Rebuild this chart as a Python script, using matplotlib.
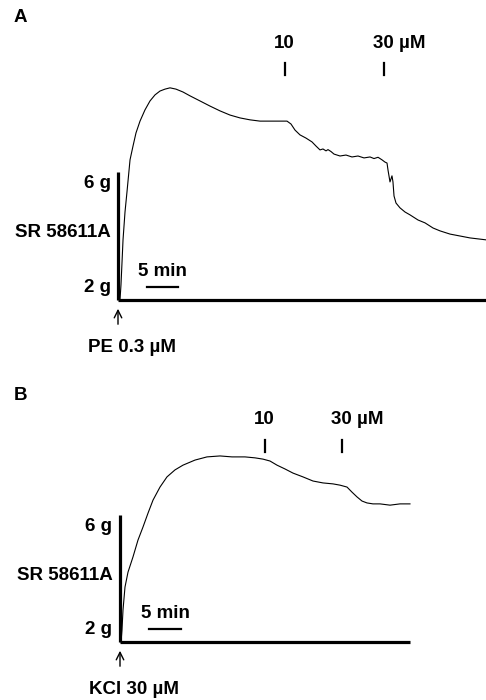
import numpy as np
import matplotlib
matplotlib.use('Agg')
import matplotlib.pyplot as plt

plt.rcParams['font.family'] = ['Liberation Sans', 'DejaVu Sans']
plt.rcParams['font.weight'] = 'bold'
plt.rcParams['font.size'] = 13.5

# panel A: PE 0.3 uM contraction, time in min, tension in g
a_time = [0.32, 0.48, 0.65, 0.81, 1.13, 1.45, 1.94, 2.42, 2.90, 3.55, 4.35, 5.16,
          5.97, 6.77, 7.58, 8.39, 9.35, 10.48, 11.61, 13.23, 14.84, 16.45, 18.06,
          19.68, 21.29, 22.90, 24.52, 26.13, 27.26, 27.90, 28.55, 29.35, 30.32,
          31.29, 31.94, 32.58, 33.06, 33.55, 33.87, 34.35, 34.84, 35.81, 36.77,
          37.74, 38.71, 39.68, 40.65, 41.29, 41.94, 42.58, 43.06, 43.39, 43.55,
          43.87, 44.19, 44.35, 44.52, 44.84, 45.48, 46.29, 47.10, 48.39, 49.52,
          50.81, 51.94, 53.55, 55.16, 56.77, 58.06, 59.35]
a_tension = [2.00, 2.47, 3.19, 3.88, 4.75, 5.38, 6.38, 6.81, 7.22, 7.59, 7.94, 8.22,
             8.41, 8.53, 8.59, 8.63, 8.59, 8.50, 8.38, 8.22, 8.06, 7.91, 7.78,
             7.69, 7.63, 7.59, 7.59, 7.59, 7.59, 7.50, 7.31, 7.16, 7.06,
             6.94, 6.81, 6.69, 6.72, 6.66, 6.70, 6.64, 6.56, 6.50, 6.53,
             6.47, 6.50, 6.44, 6.47, 6.42, 6.46, 6.38, 6.31, 6.28, 6.06,
             5.69, 5.88, 5.69, 5.25, 5.03, 4.88, 4.75, 4.66, 4.50, 4.41,
             4.25, 4.16, 4.06, 4.00, 3.94, 3.91, 3.88]
a_doses = [26.9, 42.9]
a_dose_labels = ['10', '30 µM']
a_end = 59.35

# panel B: KCl 30 uM contraction
b_time = [0.16, 0.31, 0.47, 0.78, 1.25, 2.03, 2.81, 3.59, 4.38, 5.16, 6.25, 7.34,
          8.59, 9.84, 11.72, 13.59, 15.63, 17.50, 19.53, 21.09, 22.34, 23.44,
          24.53, 25.78, 27.03, 28.59, 30.16, 31.72, 33.28, 34.38, 35.47, 36.25,
          37.03, 37.81, 38.59, 39.53, 40.63, 42.19, 43.75, 45.31]
b_tension = [2.00, 2.38, 3.01, 3.73, 4.20, 4.68, 5.21, 5.62, 6.06, 6.47, 6.88, 7.20,
             7.42, 7.57, 7.73, 7.83, 7.86, 7.83, 7.83, 7.80, 7.76, 7.70,
             7.57, 7.45, 7.32, 7.20, 7.07, 7.01, 6.98, 6.94, 6.88, 6.72,
             6.57, 6.44, 6.38, 6.35, 6.35, 6.31, 6.35, 6.35]
b_doses = [22.7, 34.7]
b_dose_labels = ['10', '30 µM']
b_end = 45.3

W, H = 486, 700
fig = plt.figure(figsize=(W / 100, H / 100), dpi=100)


def make_panel(x0, y0, px_min, px_g, top_px):
    # axes placed so that (x0, y0) pixel is (0 min, 2 g)
    ax = fig.add_axes([x0 / W, 1 - y0 / H, (W - x0) / W, (y0 - top_px) / H])
    ax.set_xlim(0, (W - x0) / px_min)
    ax.set_ylim(2, 2 + (y0 - top_px) / px_g)
    ax.axis('off')
    return ax


def draw_panel(ax, t, g, doses, labels, end, stim, px_min, px_g, label_y):
    # calibration bar and baseline
    ax.plot([0, 0], [2, 6], color='black', lw=2.3, clip_on=False, solid_capstyle='butt')
    ax.plot([0, end], [2, 2], color='black', lw=2.3, clip_on=False, solid_capstyle='butt')
    ax.plot(t, g, color='black', lw=0.8, clip_on=False)

    ax.text(-1.2, 5.65, '6 g', ha='right', va='center')
    ax.text(-1.2, 4.1, 'SR 58611A', ha='right', va='center')
    ax.text(-1.2, 2.38, '2 g', ha='right', va='center')

    # 5 min scale bar
    ax.plot([4.6, 9.6], [2.42, 2.42], color='black', lw=1.6)
    ax.text(7.1, 2.62, '5 min', ha='center', va='bottom')

    # drug additions
    tick_lo = label_y - 32 / px_g
    for d, lab in zip(doses, labels):
        ax.plot([d, d], [tick_lo, tick_lo + 12 / px_g], color='black', lw=1.6, clip_on=False)
        ax.text(d - 11 / px_min, label_y, lab, ha='left', va='center', clip_on=False)

    # stimulus arrow
    ax.annotate('', xy=(0, 2 - 6 / px_g), xytext=(0, 2 - 27 / px_g),
                arrowprops=dict(arrowstyle='->', color='black', lw=1.0), annotation_clip=False)
    ax.text(2.2, 2 - 47 / px_g, stim, ha='center', va='center', clip_on=False)


ax_a = make_panel(118, 300, 6.2, 32.0, 60)
draw_panel(ax_a, a_time, a_tension, a_doses, a_dose_labels, a_end, 'PE 0.3 µM', 6.2, 32.0, 10.03)

ax_b = make_panel(120, 642, 6.4, 31.75, 400)
draw_panel(ax_b, b_time, b_tension, b_doses, b_dose_labels, b_end, 'KCl 30 µM', 6.4, 31.75, 9.0)

fig.text(20 / W, 1 - 18 / H, 'A', ha='center', va='center', fontsize=13.5)
fig.text(20 / W, 1 - 395 / H, 'B', ha='center', va='center', fontsize=13.5)

fig.savefig('out.png', dpi=100)
